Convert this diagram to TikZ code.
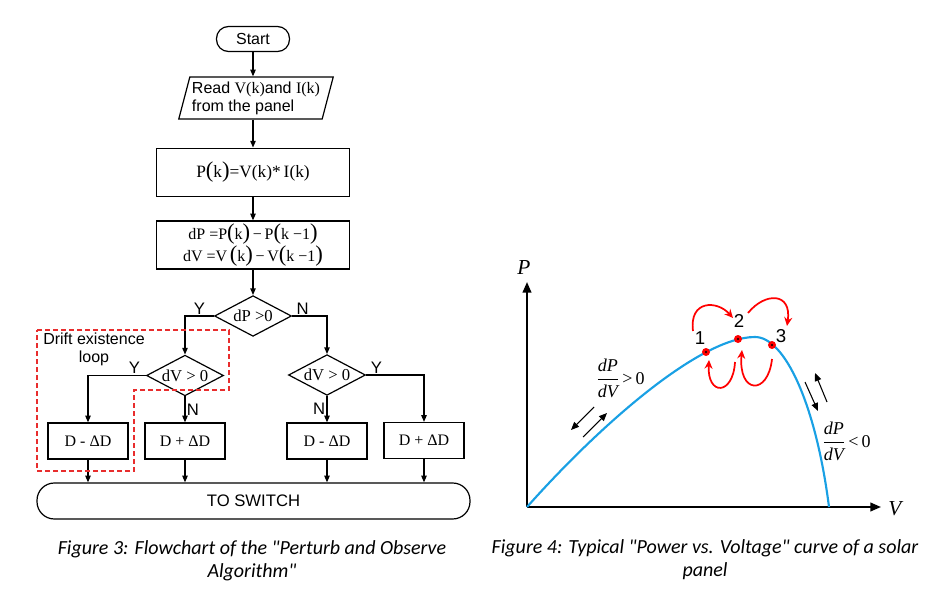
\documentclass[tikz,border=0pt]{standalone}
\usepackage{fontspec}
\setmainfont{Liberation Sans}
\newfontfamily\serif{Liberation Serif}
\newfontfamily\capfont{Carlito}
\usetikzlibrary{shapes.geometric,arrows.meta}
\definecolor{loopred}{RGB}{232,45,45}
\definecolor{curveblue}{RGB}{25,160,228}
\newcommand\bpar[1]{{\fontsize{17}{17}\selectfont(}#1{\fontsize{17}{17}\selectfont)}}
\newcommand\dfr[1]{$\displaystyle\frac{\hbox{\serif\itshape dP}}{\hbox{\serif\itshape dV}}$\,#1\,0}

\begin{document}
\begin{tikzpicture}[x=0.75pt,y=-0.75pt,
  flow/.style={font=\fontsize{12}{13.5}\selectfont},
  box/.style={draw,line width=0.9pt,minimum width=144.5pt,minimum height=36.5pt,inner sep=0pt},
  smallbox/.style={draw,line width=0.9pt,minimum width=60pt,minimum height=27pt,inner sep=0pt,font=\serif\fontsize{12}{13}\selectfont},
  term/.style={draw,line width=0.9pt,rounded corners=9pt,minimum width=54.75pt,minimum height=18.75pt,inner sep=0pt},
  io/.style={draw,line width=0.9pt,trapezium,trapezium left angle=72,trapezium right angle=108,trapezium stretches=true,minimum width=116pt,minimum height=31.5pt,inner sep=0pt,align=left},
  dec/.style={draw,line width=0.9pt,diamond,aspect=1.9,minimum width=57.75pt,minimum height=30.5pt,inner sep=0pt,font=\serif\fontsize{12.5}{13}\selectfont},
  arr/.style={line width=0.9pt,-{Triangle[length=5pt,width=4pt]}},
  yn/.style={font=\fontsize{12.5}{13}\selectfont,inner sep=1pt},
  caption/.style={font=\capfont\itshape\fontsize{15}{17.25}\selectfont,align=center},
  axis/.style={line width=1.5pt,-{Triangle[length=8pt,width=6.5pt]}},
  blk/.style={line width=0.8pt,-{Triangle[length=6pt,width=5pt]}},
  redarr/.style={red,line width=1.3pt,-{Stealth[length=6.5pt,width=6pt]}},
  num/.style={font=\fontsize{14}{14}\selectfont,inner sep=0pt},
  slope/.style={anchor=west,inner sep=0pt,font=\serif\fontsize{13.5}{13.5}\selectfont}]
\useasboundingbox (0,0) rectangle (935,599);
%% flowchart
\begin{scope}[flow]
\node[term] (start) at (253,39) {Start};
\node[io] (read) at (256,98) {Read {\serif V(k)}and {\serif I(k)}\\from the panel};
\node[box] (pk) at (253,172.5) {\serif\fontsize{13}{13}\selectfont P\bpar{k}=V(k)*\,I(k)};
\node[box,minimum height=36pt,align=center] (dpdv) at (253,245) {\serif\fontsize{12}{17}\selectfont dP =P\bpar{k}\,−\,P\bpar{k −1}\\\serif\fontsize{12}{17}\selectfont dV =V\,\bpar{k}\,−\,V\bpar{k −1}};
\node[dec] (dec1) at (253,316) {dP >0};
\node[dec] (dec2) at (185,375.5) {dV > 0};
\node[dec] (dec3) at (327,375) {dV > 0};
\node[smallbox] (b1) at (88,441) {D - ΔD};
\node[smallbox] (b2) at (185,441) {D + ΔD};
\node[smallbox] (b3) at (327,441) {D - ΔD};
\node[smallbox] (b4) at (424,440.5) {D + ΔD};
\node[term,minimum width=324.75pt,minimum height=27pt,rounded corners=13pt,font=\fontsize{12.5}{13}\selectfont] (sw) at (253.5,501) {TO SWITCH};
\end{scope}

\draw[arr] (start) -- (start |- read.north);
\draw[arr] (pk.north |- read.south) -- (pk);
\draw[arr] (pk) -- (dpdv);
\draw[arr] (dpdv) -- (dec1);
\draw[arr] (dec1.west) -| node[yn,pos=0.25,above](y1){Y} (dec2.north);
\draw[arr] (dec1.east) -| node[yn,pos=0.15,above](n1){N} (dec3.north);
\draw[arr] (dec2.west) -| node[yn,pos=0.1,above](y2){Y} (b1.north);
\draw[arr] (dec2.south) -- node[yn,right](n2){N} (b2.north);
\draw[arr] (dec3.east) -| node[yn,pos=0.09,above](y3){Y} (b4.north);
\draw[arr] (dec3.south) -- node[yn,left](n3){N} (b3.north);
\foreach \b in {b1,b2,b3,b4}
  \draw[arr] (\b) -- (\b |- sw.north);

% drift loop
\draw[loopred,line width=0.8pt,dash pattern=on 3.5pt off 2.5pt]
  (37,330) -- (229,330) -- (229,390) -- (134,390) -- (134,471) -- (37,471) -- cycle;
\node[flow,align=center,inner sep=0pt] (drift) at (94,349) {Drift existence\\loop};

\node[caption] (cap3) at (252,561) {Figure 3: Flowchart of the "Perturb and Observe\\Algorithm"};

%% P-V curve
\coordinate (o) at (527,507);
\draw[axis] (o) -- (527,282);
\draw[axis] (o) -- (881,507);
\node[font=\serif\itshape\fontsize{16}{16}\selectfont] (plbl) at (524,268) {P};
\node[font=\serif\itshape\fontsize{16}{16}\selectfont] (vlbl) at (895,509) {V};

\draw[curveblue,line width=1.6pt] (o) .. controls (600,425) and (700,337) .. (755,337)
  .. controls (785,337) and (816,405) .. (829,507);

\coordinate (p1) at (706,352);
\coordinate (p2) at (738,339);
\coordinate (p3) at (772,345);
\foreach \p in {p1,p2,p3}{
  \fill[red] (\p) circle (3pt);
  \fill (\p) circle (0.9pt);
}
\node[num] (n1l) at (700,338) {1};
\node[num] (n2l) at (739,321) {2};
\node[num] (n3l) at (781,336) {3};

\draw[redarr] (693,331) .. controls (689,300) and (717,300) .. (733,318);
\draw[redarr] (748,313) .. controls (765,292) and (792,292) .. (787,326);
\draw[redarr] (735,362) .. controls (733,396) and (707,396) .. (709,360);
\draw[redarr] (772,359) .. controls (768,396) and (738,394) .. (742,350);

\draw[blk] (594,407) -- (571,430);
\draw[blk] (583,437) -- (607,413);
\draw[blk] (827,402) -- (815,373);
\draw[blk] (805,382) -- (818,411);

\node[slope] (s1) at (596,378) {\dfr{>}};
\node[slope] (s2) at (822,441) {\dfr{<}};

\node[caption] (cap4) at (705,560) {Figure 4: Typical "Power vs. Voltage" curve of a solar\\panel};
\end{tikzpicture}
\end{document}
